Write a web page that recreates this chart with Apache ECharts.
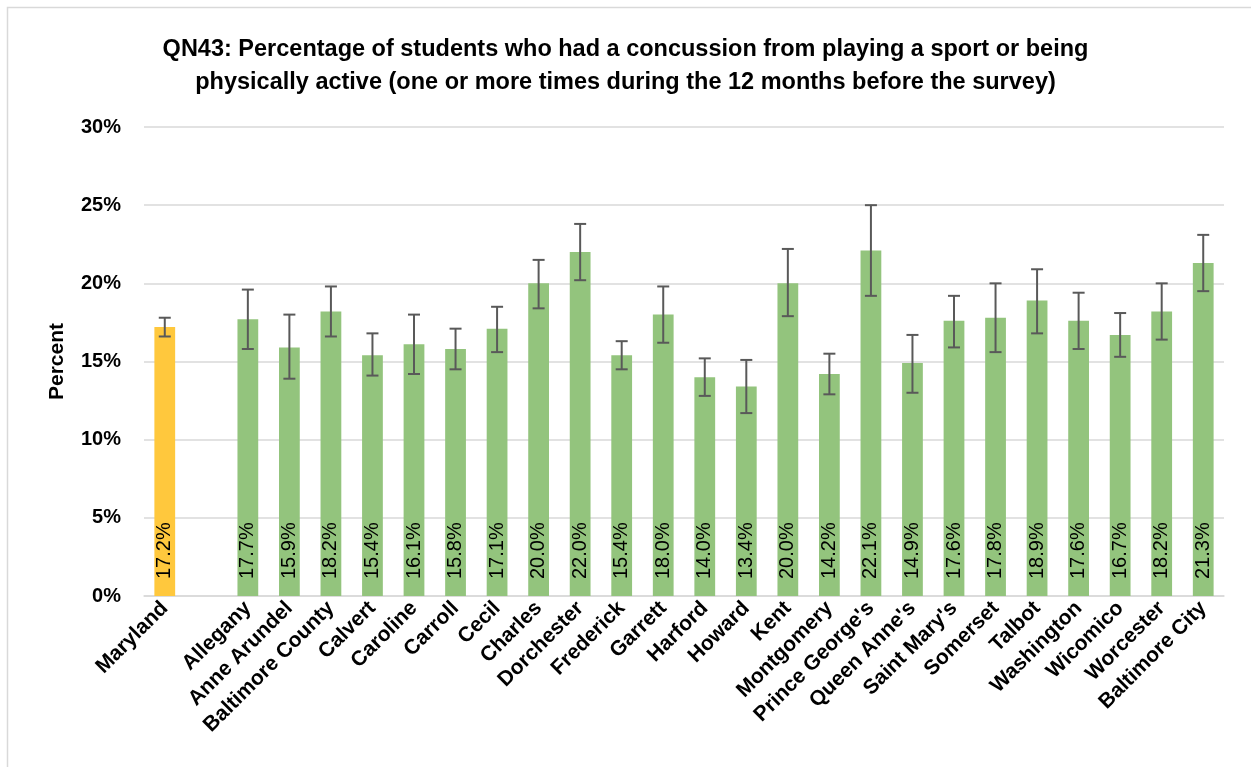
<!DOCTYPE html>
<html>
<head>
<meta charset="utf-8">
<script src="https://cdn.jsdelivr.net/npm/echarts@6/dist/echarts.min.js"></script>
<style>
html,body{margin:0;padding:0;background:#fff;}
#c{width:1251px;height:767px;}
</style>
</head>
<body>
<div id="c"></div>
<script>
var categories = ["Maryland", "", "Allegany", "Anne Arundel", "Baltimore County", "Calvert", "Caroline", "Carroll", "Cecil", "Charles", "Dorchester", "Frederick", "Garrett", "Harford", "Howard", "Kent", "Montgomery", "Prince George's", "Queen Anne's", "Saint Mary's", "Somerset", "Talbot", "Washington", "Wicomico", "Worcester", "Baltimore City"];
var values = [17.2, null, 17.7, 15.9, 18.2, 15.4, 16.1, 15.8, 17.1, 20.0, 22.0, 15.4, 18.0, 14.0, 13.4, 20.0, 14.2, 22.1, 14.9, 17.6, 17.8, 18.9, 17.6, 16.7, 18.2, 21.3];
var errLow = [16.6, null, 15.8, 13.9, 16.6, 14.1, 14.2, 14.5, 15.6, 18.4, 20.2, 14.5, 16.2, 12.8, 11.7, 17.9, 12.9, 19.2, 13.0, 15.9, 15.6, 16.8, 15.8, 15.3, 16.4, 19.5];
var errHigh = [17.8, null, 19.6, 18.0, 19.8, 16.8, 18.0, 17.1, 18.5, 21.5, 23.8, 16.3, 19.8, 15.2, 15.1, 22.2, 15.5, 25.0, 16.7, 19.2, 20.0, 20.9, 19.4, 18.1, 20.0, 23.1];
var yTicks = [0, 5, 10, 15, 20, 25, 30];

var FONT = "Liberation Sans";
var barData = values.map(function (v, i) {
  if (v === null) return '-';
  return { value: v, itemStyle: { color: i === 0 ? '#FFC83D' : '#93C47D' } };
});
var errData = [];
for (var i = 0; i < categories.length; i++) {
  if (errLow[i] !== null) errData.push([i, errLow[i], errHigh[i]]);
}

var chart = echarts.init(document.getElementById('c'), null, { renderer: 'canvas' });
chart.setOption({
  animation: false,
  backgroundColor: '#fff',
  textStyle: { fontFamily: FONT },
  graphic: [{
    type: 'rect', left: 5, top: 5, silent: true,
    shape: { width: 1300, height: 800 },
    style: { fill: 'none', stroke: '#d9d9d9', lineWidth: 1.5 }
  }],
  title: {
    text: 'QN43: Percentage of students who had a concussion from playing a sport or being\nphysically active (one or more times during the 12 months before the survey)',
    left: 'center', top: 28,
    textStyle: { fontFamily: FONT, fontSize: 23.5, fontWeight: 'bold', color: '#000', lineHeight: 33 }
  },
  grid: { left: 144, right: 27, top: 127, bottom: 171, containLabel: false },
  xAxis: {
    type: 'category', data: categories,
    axisLine: { show: true, lineStyle: { color: '#d9d9d9', width: 1.5 } },
    axisTick: { show: false },
    axisLabel: { interval: 0, rotate: 45, margin: 9, fontFamily: FONT, fontSize: 21, fontWeight: 'bold', color: '#000' }
  },
  yAxis: {
    type: 'value', min: yTicks[0], max: yTicks[yTicks.length - 1], interval: 5,
    name: 'Percent', nameLocation: 'middle', nameGap: 76,
    nameTextStyle: { fontFamily: FONT, fontSize: 21, fontWeight: 'bold', color: '#000' },
    axisLine: { show: false }, axisTick: { show: false },
    axisLabel: { formatter: '{value}%', margin: 23, fontFamily: FONT, fontSize: 20, fontWeight: 'bold', color: '#000' },
    splitLine: { lineStyle: { color: '#d9d9d9', width: 1.5 } }
  },
  series: [{
    type: 'bar', data: barData, barWidth: '50%',
    label: {
      show: true, position: 'insideBottom', rotate: 90, align: 'left', verticalAlign: 'middle',
      distance: 17, fontFamily: FONT, fontSize: 20, color: '#000',
      formatter: function (p) { return p.value.toFixed(1) + '%'; }
    }
  }, {
    type: 'custom', data: errData, z: 10,
    encode: { x: 0, y: [1, 2] },
    renderItem: function (params, api) {
      var x = api.value(0);
      var lo = api.coord([x, api.value(1)]);
      var hi = api.coord([x, api.value(2)]);
      var hw = 6;
      var st = { stroke: '#595959', lineWidth: 2 };
      return {
        type: 'group',
        children: [
          { type: 'line', shape: { x1: lo[0], y1: lo[1], x2: hi[0], y2: hi[1] }, style: st },
          { type: 'line', shape: { x1: lo[0] - hw, y1: lo[1], x2: lo[0] + hw, y2: lo[1] }, style: st },
          { type: 'line', shape: { x1: hi[0] - hw, y1: hi[1], x2: hi[0] + hw, y2: hi[1] }, style: st }
        ]
      };
    }
  }]
});
</script>
</body>
</html>
